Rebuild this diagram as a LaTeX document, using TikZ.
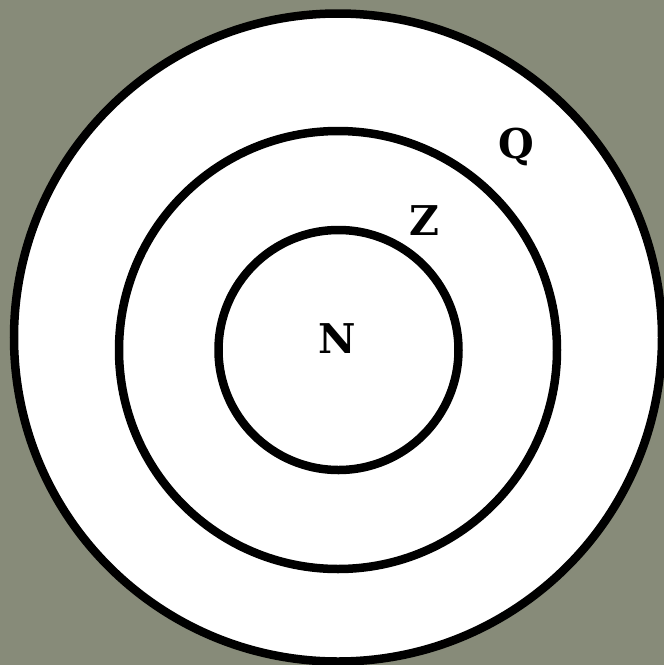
\documentclass[tikz,border=0pt]{standalone}
\usepackage{fontspec}
\setmainfont{DejaVu Serif}
\definecolor{bggray}{RGB}{135,139,121}
\tikzset{
  ring/.style={circle, draw=black, fill=white, line width=8.5pt, inner sep=0pt},
  setlabel/.style={font=\fontsize{41}{41}\selectfont\bfseries, inner sep=0pt, anchor=base}
}
\begin{document}
\begin{tikzpicture}[x=1pt,y=-1pt]
  \fill[bggray] (0,0) rectangle (664,665);
  \useasboundingbox (0,0) rectangle (664,665);
  \node[ring, minimum size=648pt] (outer) at (338,337.5) {};
  \node[ring, minimum size=438pt] (middle) at (338,350) {};
  \node[ring, minimum size=240pt] (inner) at (338.5,350) {};
  \node[setlabel] (N) at (337,353) {N};
  \node[setlabel] (Z) at (424,235) {Z};
  \node[setlabel] (Q) at (516,158) {Q};
\end{tikzpicture}
\end{document}
